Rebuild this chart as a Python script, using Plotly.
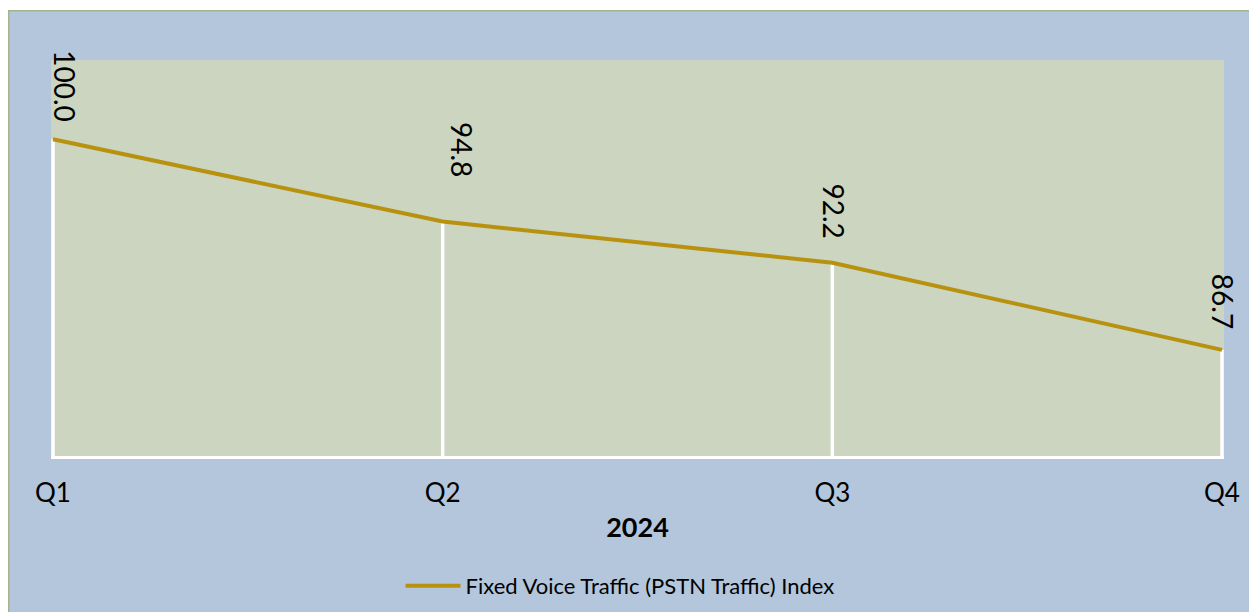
import plotly.graph_objects as go

categories = ["Q1", "Q2", "Q3", "Q4"]
index_values = [100.0, 94.8, 92.2, 86.7]
series_name = "Fixed Voice Traffic (PSTN Traffic) Index"
x_title = "2024"

y_min, y_max = 80, 105
FONT = "Lato, 'Open Sans', sans-serif"

BLUE = "#B3C6DC"
GREEN = "#CBD5C0"
GOLD = "#B8920F"

# page body keeps an 8px margin, so the figure starts at (8, 8)
W, H = 1249, 604
L, T, R, B = 43, 52, 33, 156
PW, PH = W - L - R, H - T - B
PAD = 2 / (PW - 4) * 3  # ~2px of category padding on each side

def px_x(px):  # figure pixel -> paper x
    return (px - L) / PW

def px_y(py):  # figure pixel -> paper y
    return (H - B - py) / PH

fig = go.Figure()

# white drop lines from each point down to the axis
drop_x, drop_y = [], []
for c, v in zip(categories, index_values):
    drop_x += [c, c, None]
    drop_y += [y_min, v, None]
fig.add_trace(go.Scatter(
    x=drop_x, y=drop_y, mode="lines", line=dict(color="white", width=3.5),
    showlegend=False, hoverinfo="skip", connectgaps=False))

fig.add_trace(go.Scatter(
    x=categories, y=index_values, mode="lines", name=series_name,
    line=dict(color=GOLD, width=4)))

# rotated data labels
label_shift = [(12, 53), (20, 72), (2, 52), (1, 49)]
for c, v, (dx, dy) in zip(categories, index_values, label_shift):
    fig.add_annotation(x=c, y=v, text=f"{v:.1f}", textangle=90, showarrow=False,
                       xshift=dx, yshift=dy, font=dict(size=28, color="black", family=FONT))

# white strip on top and frame border
fig.add_shape(type="rect", xref="paper", yref="paper",
              x0=px_x(0), x1=px_x(W), y0=px_y(2), y1=px_y(0),
              fillcolor="white", line=dict(width=0), layer="below")
fig.add_shape(type="rect", xref="paper", yref="paper",
              x0=px_x(0.7), x1=px_x(W - 0.7), y0=px_y(H + 10), y1=px_y(2.7),
              fillcolor="rgba(0,0,0,0)", line=dict(color="#A3B48C", width=1.5), layer="below")

fig.update_layout(
    width=W, height=H,
    margin=dict(l=L, r=R, t=T, b=B, autoexpand=False),
    paper_bgcolor=BLUE, plot_bgcolor=GREEN,
    font=dict(family=FONT, color="black"),
    showlegend=True,
    legend=dict(orientation="h", xref="container", yref="container",
                x=612 / W, xanchor="center", y=1 - 578 / H, yanchor="middle",
                font=dict(size=22, family=FONT), itemwidth=55, bgcolor="rgba(0,0,0,0)"),
    xaxis=dict(type="category", range=[-PAD, 3 + PAD], showgrid=False, zeroline=False,
               showline=True, linecolor="white", linewidth=3,
               ticks="", tickfont=dict(size=26, family=FONT), ticklabelstandoff=12,
               title=dict(text=f"<b>{x_title}</b>", font=dict(size=27, family=FONT), standoff=11)),
    yaxis=dict(range=[y_min, y_max], visible=False, showgrid=False, zeroline=False),
)

fig.write_html("out.html")
